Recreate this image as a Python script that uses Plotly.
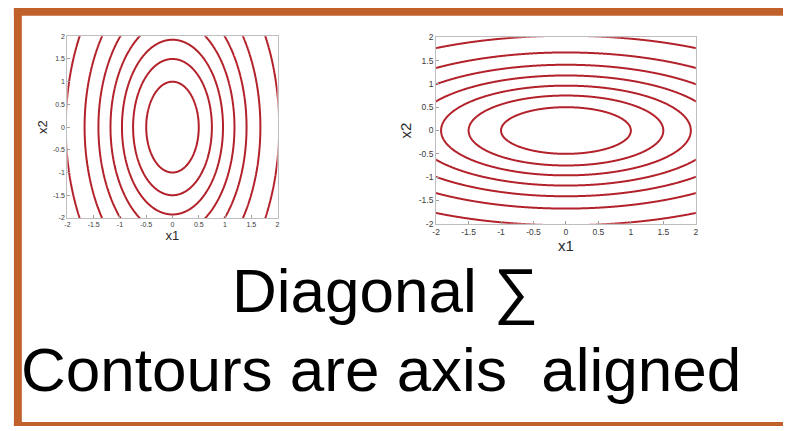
import numpy as np
import plotly.graph_objects as go

# Diagonal covariance examples: weights on x1^2 and x2^2 in the quadratic form
left_weights = [4.0, 1.0]    # tall ellipses (x2 varies more)
right_weights = [1.0, 4.0]   # wide ellipses (x1 varies more)

# Contour levels of the quadratic form
levels = [1.0, 2.25, 3.7, 5.57, 7.95, 11.2, 16.5]

tick_vals = [-2, -1.5, -1, -0.5, 0, 0.5, 1, 1.5, 2]
tick_text = ["-2", "-1.5", "-1", "-0.5", "0", "0.5", "1", "1.5", "2"]

title_line = "Diagonal \u2211"
subtitle_line = "Contours are axis\u00a0 aligned"

W, H = 786, 431
RED = "#B3222B"
BORDER = "#C0612B"
FONT = "Liberation Sans, Arial, sans-serif"

grid = np.linspace(-2.05, 2.05, 411)
gx, gy = np.meshgrid(grid, grid)


def quad(weights):
    return weights[0] * gx ** 2 + weights[1] * gy ** 2


fig = go.Figure()

for weights, xa, ya in [(left_weights, "x", "y"), (right_weights, "x2", "y2")]:
    z = quad(weights)
    for lv in levels:
        fig.add_trace(go.Contour(
            x=grid, y=grid, z=z,
            xaxis=xa, yaxis=ya,
            contours=dict(start=lv, end=lv, size=1, coloring="none"),
            line=dict(color=RED, width=2, smoothing=1.3),
            showscale=False, hoverinfo="skip",
        ))


def px_x(p):
    return p / W


def px_y(p):
    return 1 - p / H


def axis_style(fs, title, standoff, title_fs):
    return dict(
        range=[-2, 2], tickmode="array", tickvals=tick_vals, ticktext=tick_text,
        showline=True, mirror=True, linecolor="#BEBEBE", linewidth=1,
        ticks="inside", ticklen=3, tickcolor="#A0A0A0",
        showgrid=False, zeroline=False,
        tickfont=dict(size=fs, color="#3A3A3A", family=FONT),
        title=dict(text=title, standoff=standoff,
                   font=dict(size=title_fs, color="#2A2A2A", family=FONT)),
    )


fig.update_layout(
    width=W, height=H,
    margin=dict(l=0, r=0, t=0, b=0),
    paper_bgcolor="white", plot_bgcolor="white",
    showlegend=False,
    xaxis=dict(domain=[px_x(64), px_x(276)], anchor="y",
               **axis_style(7, "x1", 1, 13)),
    yaxis=dict(domain=[px_y(218), px_y(32)], anchor="x",
               **axis_style(7, "x2", 2, 13)),
    xaxis2=dict(domain=[px_x(436), px_x(698)], anchor="y2",
                **axis_style(8.5, "x1", 0, 15)),
    yaxis2=dict(domain=[px_y(224), px_y(33)], anchor="x2",
                **axis_style(8.5, "x2", 3, 15)),
)

# Slide frame: filled bands on top, left and bottom (the right side runs off the page)
bands = [
    (10, 786, 3, 11),     # top
    (10, 18, 3, 431),     # left
    (10, 786, 427, 431),  # bottom
]
for bx0, bx1, by0, by1 in bands:
    fig.add_shape(type="rect", xref="paper", yref="paper",
                  x0=px_x(bx0), x1=px_x(bx1), y0=px_y(by1), y1=px_y(by0),
                  line=dict(width=0), fillcolor=BORDER, layer="above")

fig.add_annotation(text=title_line, xref="paper", yref="paper",
                   x=px_x(228), y=px_y(292.5), xanchor="left", yanchor="middle",
                   showarrow=False, font=dict(size=62, color="black", family=FONT))
fig.add_annotation(text=subtitle_line, xref="paper", yref="paper",
                   x=px_x(15), y=px_y(373), xanchor="left", yanchor="middle",
                   showarrow=False, font=dict(size=62, color="black", family=FONT))

fig.write_html("out.html")
